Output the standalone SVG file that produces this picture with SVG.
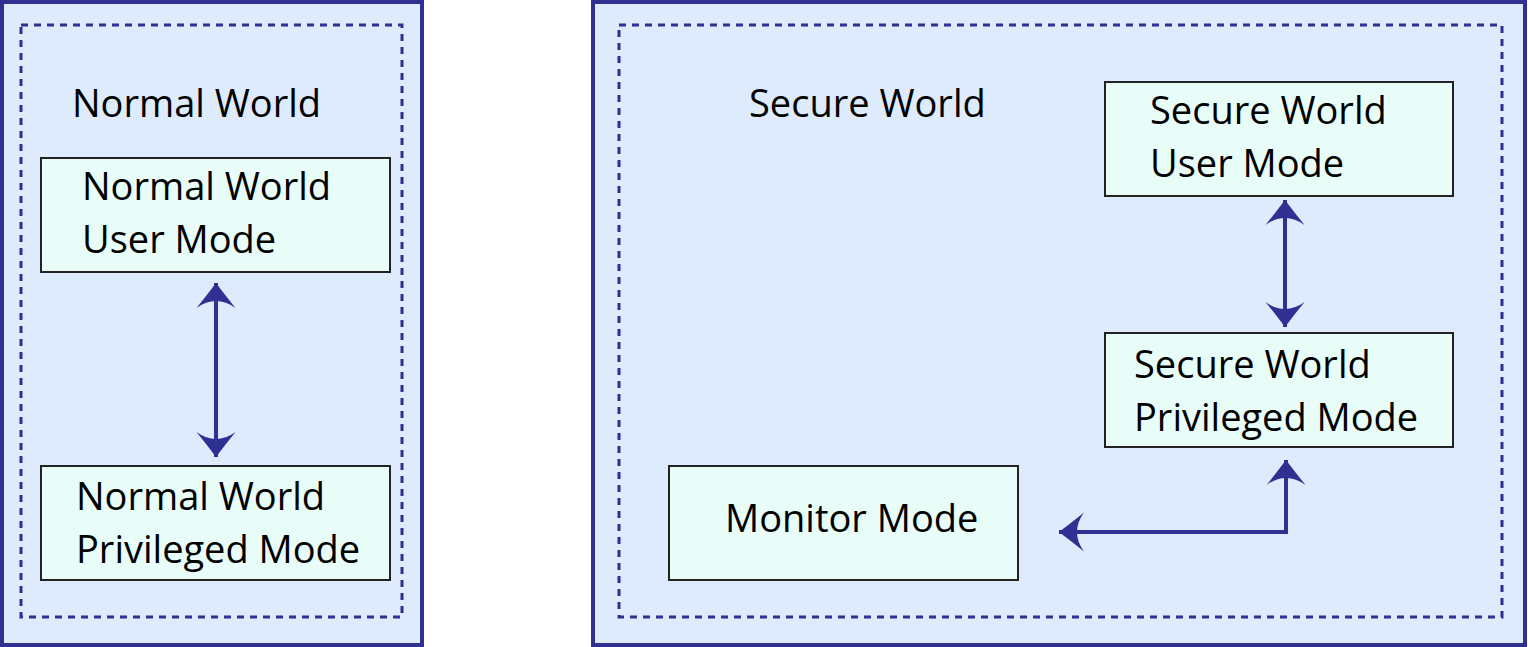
<svg xmlns="http://www.w3.org/2000/svg" width="1528" height="647" viewBox="0 0 1528 647">
<style>
.outer{fill:#ddebfc;stroke:#2e3192;stroke-width:4}
.inner{fill:none;stroke:#2e3192;stroke-width:3;stroke-dasharray:7 6}
.node{fill:#e8fcf8;stroke:#222;stroke-width:2}
.t{font-family:"Open Sans","Liberation Sans",sans-serif;font-size:38px;fill:#000}
.c{fill:none;stroke:#2e3192;stroke-width:4}
</style>
<defs>
<marker id="ah" markerUnits="userSpaceOnUse" viewBox="-28 -22 30 44" markerWidth="30" markerHeight="44" refX="0" refY="0" orient="auto-start-reverse">
<path d="M0,0 Q-12,-9 -25,-19.5 Q-18,-10 -18,0 Q-18,10 -25,19.5 Q-12,9 0,0 Z" fill="#2e3192"/>
</marker>
</defs>
<g id="normal-world">
<rect class="outer" x="2" y="2" width="420" height="643"/>
<rect class="inner" x="21" y="25" width="381" height="592"/>
<text class="t" x="72" y="117">Normal World</text>
</g>
<g id="secure-world">
<rect class="outer" x="593" y="2" width="932" height="643"/>
<rect class="inner" x="619" y="25" width="883" height="592"/>
<text class="t" x="749" y="117">Secure World</text>
</g>
<g id="nw-user">
<rect class="node" x="41" y="158" width="349" height="114"/>
<text class="t" x="82" y="200">Normal World</text>
<text class="t" x="82" y="253">User Mode</text>
</g>
<g id="nw-priv">
<rect class="node" x="41" y="466" width="349" height="114"/>
<text class="t" x="76" y="510">Normal World</text>
<text class="t" x="76" y="563">Privileged Mode</text>
</g>
<g id="sw-user">
<rect class="node" x="1105" y="82" width="348" height="114"/>
<text class="t" x="1150" y="124">Secure World</text>
<text class="t" x="1150" y="177">User Mode</text>
</g>
<g id="sw-priv">
<rect class="node" x="1105" y="333" width="348" height="114"/>
<text class="t" x="1134" y="378">Secure World</text>
<text class="t" x="1134" y="431">Privileged Mode</text>
</g>
<g id="monitor">
<rect class="node" x="669" y="466" width="349" height="114"/>
<text class="t" x="725" y="532">Monitor Mode</text>
</g>
<g id="connectors">
<path class="c" d="M216,283 L216,457" marker-start="url(#ah)" marker-end="url(#ah)"/>
<path class="c" d="M1285,200 L1285,327" marker-start="url(#ah)" marker-end="url(#ah)"/>
<path class="c" d="M1286,460 L1286,532 L1059,532" marker-start="url(#ah)" marker-end="url(#ah)"/>
</g>
</svg>
